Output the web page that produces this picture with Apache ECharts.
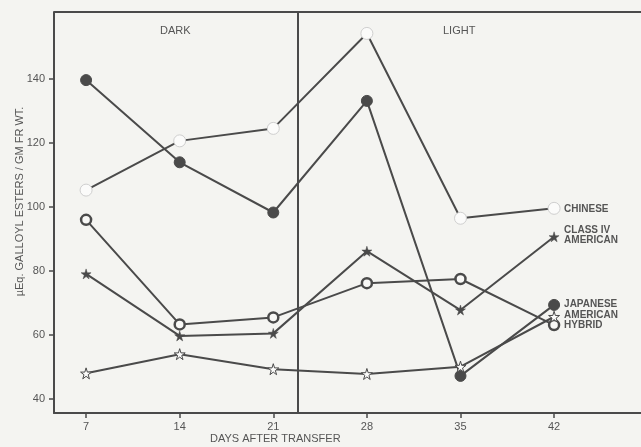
<!DOCTYPE html>
<html>
<head>
<meta charset="utf-8">
<script src="https://cdn.jsdelivr.net/npm/echarts@6/dist/echarts.min.js"></script>
<style>
html,body{margin:0;padding:0;background:#f4f4f1;}
#c{width:641px;height:447px;}
</style>
</head>
<body>
<div id="c"></div>
<script>
const days = [7, 14, 21, 28, 35, 42];
const xTicks = [7, 14, 21, 28, 35, 42];
const yTicks = [40, 60, 80, 100, 120, 140];
const chinese = [105.3, 120.7, 124.6, 154.3, 96.5, 99.6];
const japanese = [139.7, 114.0, 98.3, 133.2, 47.2, 69.4];
const hybrid = [96.0, 63.3, 65.5, 76.2, 77.5, 63.1];
const classIV = [79.1, 59.7, 60.5, 86.2, 67.8, 90.7];
const american = [48.0, 54.0, 49.3, 47.8, 50.1, 65.7];
const dividerDay = 22.85;
const periodLabels = ['DARK', 'LIGHT'];

const ink = '#4a4a4a';
const textC = '#555';
const font = 'Liberation Sans';
const star = 'path://M50,0 L61,35 L98,35 L68,57 L79,91 L50,70 L21,91 L32,57 L2,35 L39,35 Z';

function pts(arr){ return days.map((d,i)=>[d, arr[i]]); }

function mk(name, arr, symbol, size, fill, border, bw, labelText, labelOffset){
  return {
    name: name, type: 'line', data: pts(arr),
    symbol: symbol, symbolSize: size,
    lineStyle: {color: ink, width: 2},
    itemStyle: {color: fill, borderColor: border, borderWidth: bw, opacity: 1},
    z: 3,
    endLabel: {
      show: true, formatter: labelText, distance: 10, offset: labelOffset,
      color: textC, fontFamily: font, fontSize: 10, fontWeight: 'bold', lineHeight: 10, align: 'left'
    },
    animation: false
  };
}

const chart = echarts.init(document.getElementById('c'), null, {renderer: 'canvas'});
chart.setOption({
  backgroundColor: '#f4f4f1',
  animation: false,
  grid: {left: 54, top: 12, right: 0, bottom: 34, containLabel: false, outerBoundsMode: 'none'},
  xAxis: {
    type: 'value', min: 4.6, max: 48.5,
    axisLine: {show: true, lineStyle: {color: ink, width: 2}},
    axisTick: {show: true, customValues: xTicks, length: 5, inside: false, lineStyle: {color: ink, width: 1.5}},
    axisLabel: {customValues: xTicks, color: textC, fontFamily: font, fontSize: 11, margin: 8},
    splitLine: {show: false}
  },
  yAxis: {
    type: 'value', min: 35.6, max: 161,
    name: 'µEq. GALLOYL ESTERS / GM FR WT.', nameLocation: 'middle', nameRotate: 90, nameGap: 29,
    nameMoveOverlap: false,
    nameTextStyle: {color: textC, fontFamily: font, fontSize: 11, padding: [0, 0, 0, 22]},
    axisLine: {show: true, lineStyle: {color: ink, width: 2}},
    axisTick: {show: true, customValues: yTicks, length: 5, lineStyle: {color: ink, width: 1.5}},
    axisLabel: {customValues: yTicks, color: textC, fontFamily: font, fontSize: 11, margin: 9},
    splitLine: {show: false}
  },
  graphic: [
    {type: 'line', shape: {x1: 54, y1: 12, x2: 641, y2: 12}, style: {stroke: ink, lineWidth: 2}, z: 1},
    {type: 'text', left: 160, top: 25, style: {text: periodLabels[0], fill: textC, font: '11px "Liberation Sans"'}},
    {type: 'text', left: 443, top: 25, style: {text: periodLabels[1], fill: textC, font: '11px "Liberation Sans"'}},
    {type: 'text', left: 210, top: 433, style: {text: 'DAYS AFTER TRANSFER', fill: textC, font: '11px "Liberation Sans"'}}
  ],
  series: [
    Object.assign(mk('CHINESE', chinese, 'circle', 12, '#fbfbfa', '#cfcfcf', 1, 'CHINESE', [0, 1]), {
      markLine: {
        silent: true, symbol: 'none', label: {show: false},
        lineStyle: {color: ink, width: 2, type: 'solid'},
        data: [{xAxis: dividerDay}]
      }
    }),
    mk('JAPANESE', japanese, 'circle', 11, '#4a4a4a', '#4a4a4a', 1, 'JAPANESE', [0, -1]),
    mk('HYBRID', hybrid, 'circle', 10, '#f8f8f6', '#4a4a4a', 2.5, 'HYBRID', [0, 0]),
    mk('CLASS IV AMERICAN', classIV, star, 10, '#4a4a4a', '#4a4a4a', 0.5, 'CLASS IV\nAMERICAN', [0, -2]),
    mk('AMERICAN', american, star, 11, '#fbfbfa', '#4a4a4a', 1, 'AMERICAN', [0, -1])
  ]
});
</script>
</body>
</html>
